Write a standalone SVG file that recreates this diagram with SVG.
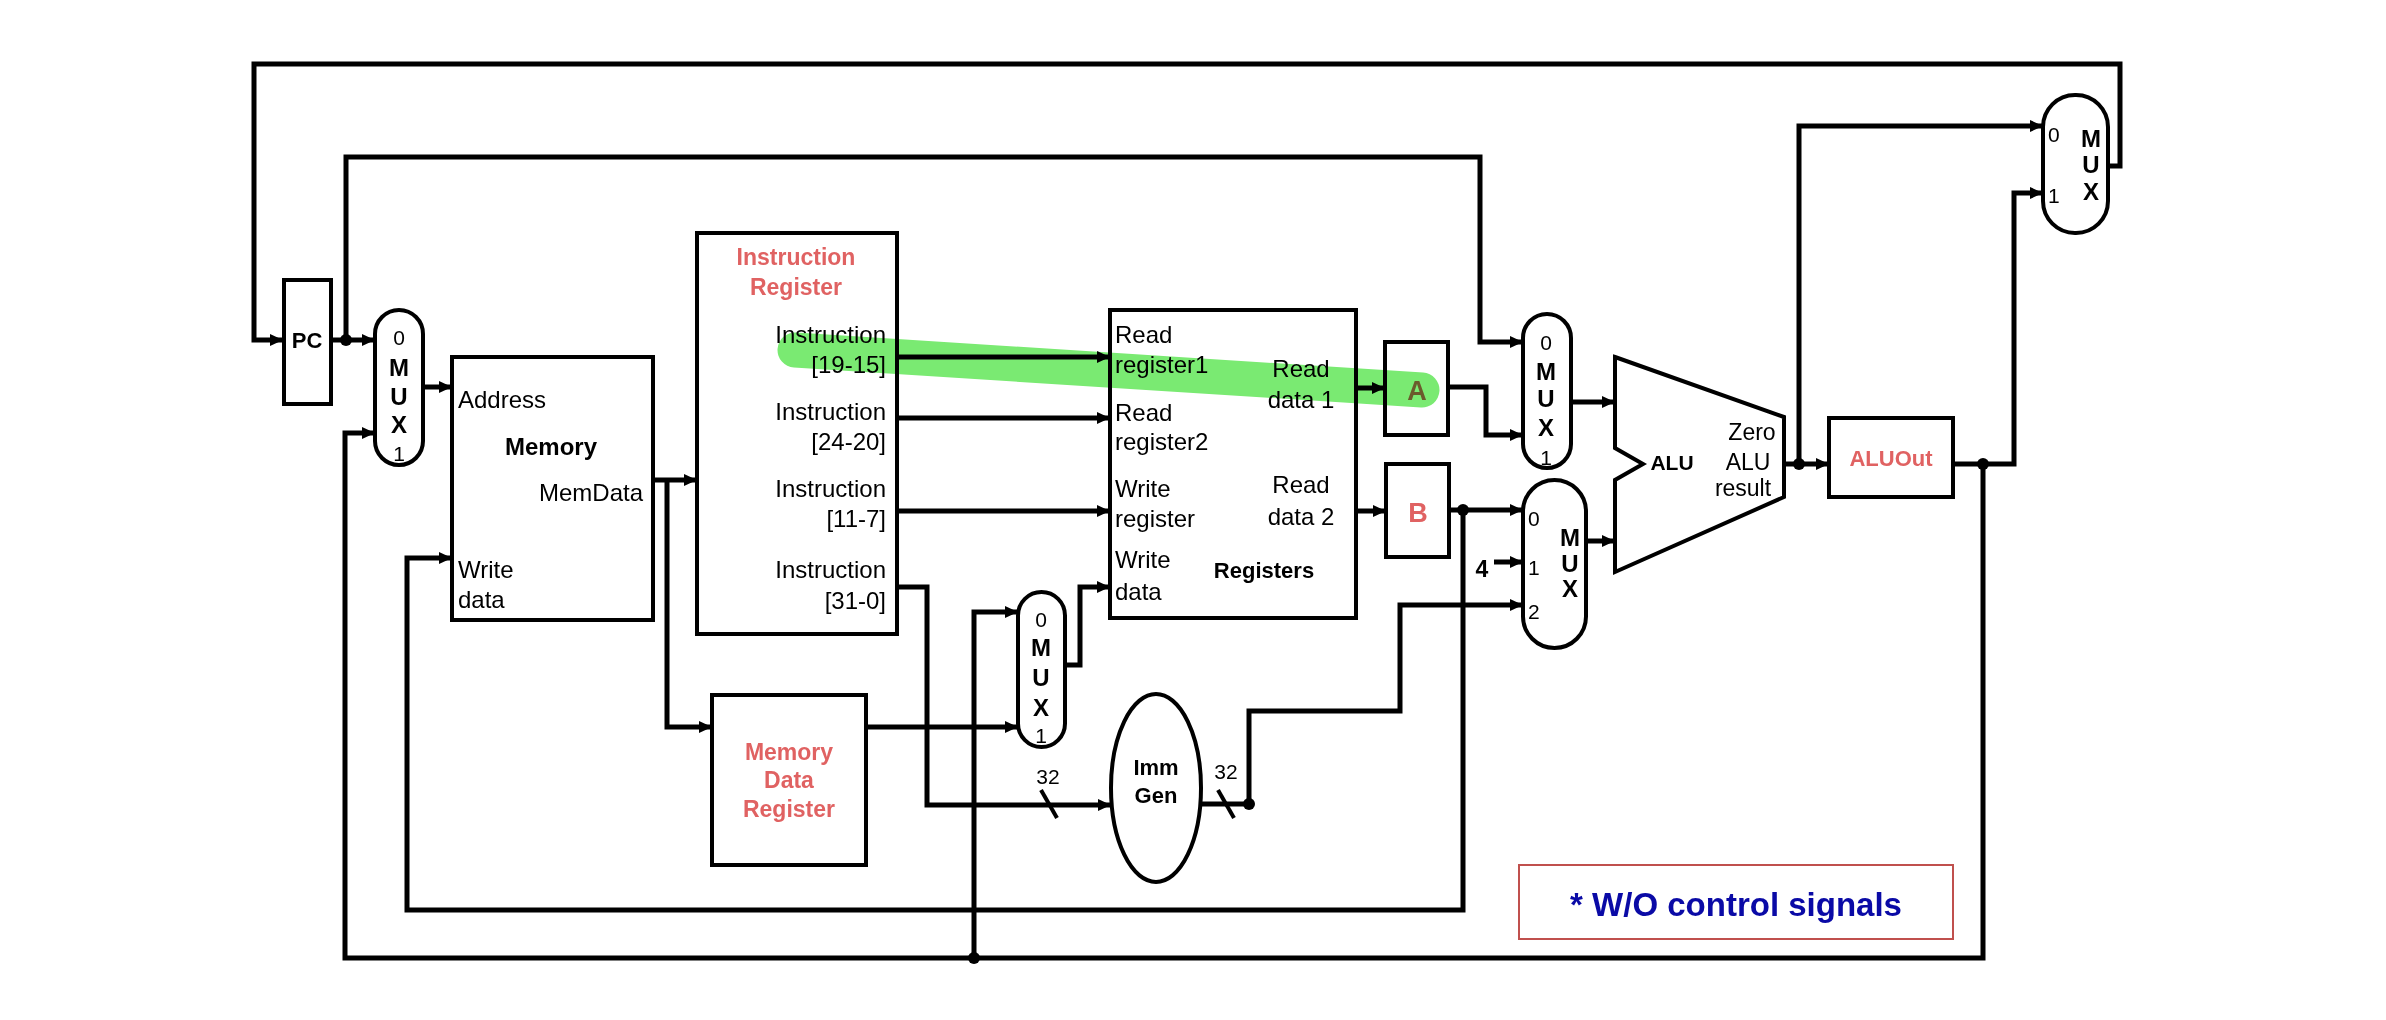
<svg xmlns="http://www.w3.org/2000/svg" width="2386" height="1020" viewBox="0 0 2386 1020">
<defs>
<marker id="ah" markerUnits="userSpaceOnUse" markerWidth="13" markerHeight="12" refX="13" refY="6" orient="auto">
<path d="M0,0 L13,6 L0,12 z" fill="#000"/>
</marker>
<style>
.w{fill:none;stroke:#000;stroke-width:5;stroke-linejoin:miter}
.a{marker-end:url(#ah)}
.b{fill:#fff;stroke:#000;stroke-width:4}
.t{font-family:"Liberation Sans",Arial,sans-serif;font-size:24px;fill:#000}
.tb{font-family:"Liberation Sans",Arial,sans-serif;font-size:22px;font-weight:bold;fill:#000}
.mx{font-family:"Liberation Sans",Arial,sans-serif;font-size:24px;font-weight:bold;fill:#000;text-anchor:middle}
.red{font-family:"Liberation Sans",Arial,sans-serif;font-size:23px;font-weight:bold;fill:#e06262}
.m{text-anchor:middle}
.e{text-anchor:end}
.d{font-family:"Liberation Sans",Arial,sans-serif;font-size:21px;fill:#000}
</style>
</defs>
<rect width="2386" height="1020" fill="#fff"/>

<g id="connectors">
<path class="w a" d="M2108,166 H2120 V64 H254 V340 H283"/>
<path class="w a" d="M331,340 H375"/>
<path class="w a" d="M346,340 V157 H1480 V342 H1523"/>
<path class="w a" d="M1983,464 V958 H345 V433 H375"/>
<path class="w a" d="M974,958 V612 H1018"/>
<path class="w a" d="M423,387 H452"/>
<path class="w a" d="M1463,510 V910 H407 V558 H452"/>
<path class="w a" d="M653,480 H697"/>
<path class="w a" d="M667,480 V727 H712"/>
<path class="w a" d="M897,357 H1110"/>
<path class="w a" d="M897,418 H1110"/>
<path class="w a" d="M897,511 H1110"/>
<path class="w a" d="M897,587 H927 V805 H1111"/>
<path class="w a" d="M866,727 H1018"/>
<path class="w a" d="M1065,665 H1080 V587 H1110"/>
<path class="w a" d="M1201,804 H1249 V711 H1400 V605 H1523"/>
<path class="w a" d="M1356,388 H1385"/>
<path class="w a" d="M1356,511 H1386"/>
<path class="w a" d="M1448,387 H1486 V435 H1523"/>
<path class="w a" d="M1571,402 H1615"/>
<path class="w a" d="M1449,510 H1523"/>
<path class="w a" d="M1494,562 H1523"/>
<path class="w a" d="M1586,541 H1615"/>
<path class="w a" d="M1784,464 H1829"/>
<path class="w a" d="M1799,464 V126 H2043"/>
<path class="w a" d="M1953,464 H2014 V193 H2043"/>
<line x1="1041" y1="790" x2="1057" y2="818" stroke="#000" stroke-width="4"/>
<line x1="1218" y1="790" x2="1234" y2="818" stroke="#000" stroke-width="4"/>
<circle cx="346" cy="340" r="6"/>
<circle cx="974" cy="958" r="6"/>
<circle cx="1249" cy="804" r="6"/>
<circle cx="1463" cy="510" r="6"/>
<circle cx="1799" cy="464" r="6"/>
<circle cx="1983" cy="464" r="6"/>
<text class="d m" x="1048" y="784">32</text>
<text class="d m" x="1226" y="779">32</text>
<text class="tb m" x="1482" y="577" style="font-size:23px">4</text>
</g>

<g id="pc">
<rect class="b" x="284" y="280" width="47" height="124"/>
<text class="tb m" x="307" y="348">PC</text>
</g>

<g id="mux-address">
<rect class="b" x="375" y="310" width="48" height="155" rx="24"/>
<text class="d m" x="399" y="345">0</text>
<text class="mx" x="399" y="376">M</text>
<text class="mx" x="399" y="405">U</text>
<text class="mx" x="399" y="433">X</text>
<text class="d m" x="399" y="461">1</text>
</g>

<g id="memory">
<rect class="b" x="452" y="357" width="201" height="263"/>
<text class="t" x="458" y="408">Address</text>
<text class="tb m" x="551" y="455" style="font-size:24px">Memory</text>
<text class="t e" x="643" y="501">MemData</text>
<text class="t" x="458" y="578">Write</text>
<text class="t" x="458" y="608">data</text>
</g>

<g id="instruction-register">
<rect class="b" x="697" y="233" width="200" height="401"/>
<text class="red m" x="796" y="265">Instruction</text>
<text class="red m" x="796" y="295">Register</text>
<text class="t e" x="886" y="343">Instruction</text>
<text class="t e" x="886" y="373">[19-15]</text>
<text class="t e" x="886" y="420">Instruction</text>
<text class="t e" x="886" y="450">[24-20]</text>
<text class="t e" x="886" y="497">Instruction</text>
<text class="t e" x="886" y="527">[11-7]</text>
<text class="t e" x="886" y="578">Instruction</text>
<text class="t e" x="886" y="609">[31-0]</text>
</g>

<g id="memory-data-register">
<rect class="b" x="712" y="695" width="154" height="170"/>
<text class="red m" x="789" y="760">Memory</text>
<text class="red m" x="789" y="788">Data</text>
<text class="red m" x="789" y="817">Register</text>
</g>

<g id="mux-writedata">
<rect class="b" x="1018" y="592" width="47" height="155" rx="23.5"/>
<text class="d m" x="1041" y="627">0</text>
<text class="mx" x="1041" y="656">M</text>
<text class="mx" x="1041" y="686">U</text>
<text class="mx" x="1041" y="716">X</text>
<text class="d m" x="1041" y="743">1</text>
</g>

<g id="imm-gen">
<ellipse class="b" cx="1156" cy="788" rx="45" ry="94"/>
<text class="tb m" x="1156" y="775">Imm</text>
<text class="tb m" x="1156" y="803">Gen</text>
</g>

<g id="registers">
<rect class="b" x="1110" y="310" width="246" height="308"/>
<text class="t" x="1115" y="343">Read</text>
<text class="t" x="1115" y="373">register1</text>
<text class="t" x="1115" y="421">Read</text>
<text class="t" x="1115" y="450">register2</text>
<text class="t" x="1115" y="497">Write</text>
<text class="t" x="1115" y="527">register</text>
<text class="t" x="1115" y="568">Write</text>
<text class="t" x="1115" y="600">data</text>
<text class="tb m" x="1264" y="578">Registers</text>
<text class="t m" x="1301" y="377">Read</text>
<text class="t m" x="1301" y="408">data 1</text>
<text class="t m" x="1301" y="493">Read</text>
<text class="t m" x="1301" y="525">data 2</text>
</g>

<g id="reg-a">
<rect class="b" x="1385" y="342" width="63" height="93"/>
<text class="red m" x="1417" y="400" style="font-size:27px">A</text>
</g>

<g id="reg-b">
<rect class="b" x="1386" y="464" width="63" height="93"/>
<text class="red m" x="1418" y="522" style="font-size:27px">B</text>
</g>

<g id="mux-alu-a">
<rect class="b" x="1523" y="314" width="48" height="154" rx="24"/>
<text class="d m" x="1546" y="350">0</text>
<text class="mx" x="1546" y="380">M</text>
<text class="mx" x="1546" y="407">U</text>
<text class="mx" x="1546" y="436">X</text>
<text class="d m" x="1546" y="465">1</text>
</g>

<g id="mux-alu-b">
<rect class="b" x="1523" y="480" width="63" height="168" rx="31.5"/>
<text class="d" x="1528" y="526">0</text>
<text class="d" x="1528" y="575">1</text>
<text class="d" x="1528" y="619">2</text>
<text class="mx" x="1570" y="546">M</text>
<text class="mx" x="1570" y="572">U</text>
<text class="mx" x="1570" y="597">X</text>
</g>

<g id="alu">
<polygon class="b" points="1615,357 1784,417 1784,497 1615,572 1615,480 1643,464 1615,448"/>
<text class="tb m" x="1672" y="470" style="font-size:21px">ALU</text>
<text class="t m" x="1752" y="440" style="font-size:23px">Zero</text>
<text class="t m" x="1748" y="470" style="font-size:23px">ALU</text>
<text class="t m" x="1743" y="496" style="font-size:23px">result</text>
</g>

<g id="aluout">
<rect class="b" x="1829" y="418" width="124" height="79"/>
<text class="red m" x="1891" y="466" style="font-size:22px">ALUOut</text>
</g>

<g id="mux-pc">
<rect class="b" x="2043" y="95" width="65" height="138" rx="32"/>
<text class="d" x="2048" y="142">0</text>
<text class="d" x="2048" y="203">1</text>
<text class="mx" x="2091" y="147">M</text>
<text class="mx" x="2091" y="173">U</text>
<text class="mx" x="2091" y="200">X</text>
</g>

<g id="note">
<rect x="1519" y="865" width="434" height="74" fill="#fff" stroke="#c0504d" stroke-width="2"/>
<text x="1736" y="916" text-anchor="middle" style="font-family:'Liberation Sans',Arial,sans-serif;font-size:33px;font-weight:bold;fill:#0a0aa6">* W/O control signals</text>
</g>

<g id="highlight">
<line x1="795" y1="350" x2="1422" y2="390" stroke="#7aea72" stroke-width="35" stroke-linecap="round" style="mix-blend-mode:multiply"/>
</g>
</svg>
